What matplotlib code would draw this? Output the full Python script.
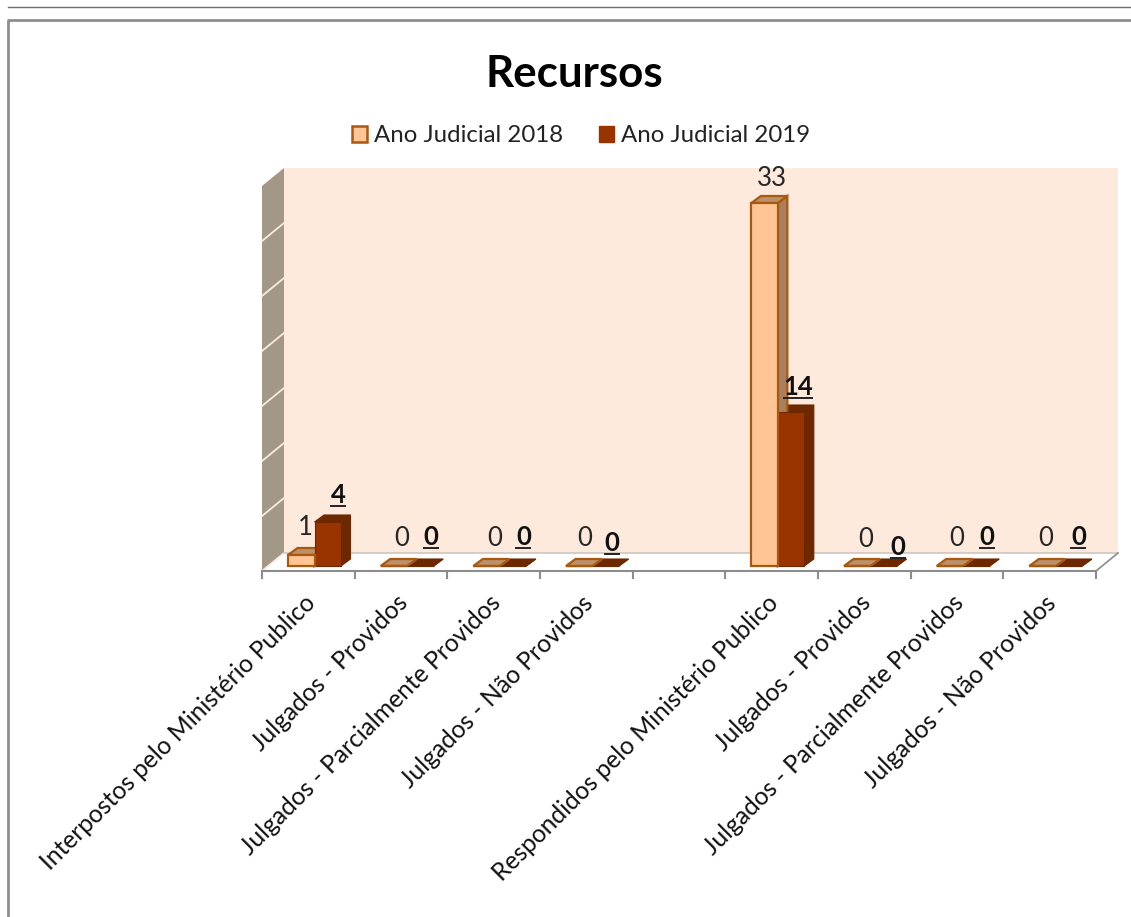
import matplotlib
matplotlib.use("Agg")
import matplotlib.pyplot as plt
from matplotlib.lines import Line2D
from matplotlib.patches import Patch, Polygon, Rectangle

plt.rcParams['font.family'] = ['Lato', 'DejaVu Sans']

W, H = 1131, 917

categories = [
    "Interpostos pelo Ministério Publico",
    "Julgados - Providos",
    "Julgados - Parcialmente Providos",
    "Julgados - Não Providos",
    "",
    "Respondidos pelo Ministério Publico",
    "Julgados - Providos",
    "Julgados - Parcialmente Providos",
    "Julgados - Não Providos",
]
series_names = ["Ano Judicial 2018", "Ano Judicial 2019"]
values_2018 = [1, 0, 0, 0, None, 33, 0, 0, 0]
values_2019 = [4, 0, 0, 0, None, 14, 0, 0, 0]
y_ticks = [0, 5, 10, 15, 20, 25, 30, 35]

# pixel layout of the fake 3D box
AX_L, AX_R, AX_BOTTOM, AX_TOP = 262, 1096, 571, 186
PX_X = (AX_R - AX_L) / len(categories)
PX_Y = (AX_BOTTOM - AX_TOP) / 35
WALL_DX, WALL_DY = 22, 18
BAR_DX, BAR_DY = 9.5, 7
BAR_LIFT = 5

C_2018 = "#FFC594"
C_2018_EDGE = "#A9590F"
C_2018_TOP = "#BC9069"
C_2018_SIDE = "#A8805F"
C_2019 = "#993300"
C_2019_DARK = "#6E2800"
C_WALL = "#FEEADD"
C_SIDE = "#A39788"
C_AXIS = "#8C8C8C"


def shift(x, y, dx=0, dy=0):
    # move a data point by a screen offset in pixels
    return (x + dx / PX_X, y + dy / PX_Y)


def box(ax, x, v, w, front, top, side, edge, lw):
    y0 = BAR_LIFT / PX_Y
    y1 = y0 + v
    d = (BAR_DX, BAR_DY)
    ax.add_patch(Polygon([(x + w, y0), (x + w, y1), shift(x + w, y1, *d), shift(x + w, y0, *d)],
                         fc=side, ec=edge, lw=lw, clip_on=False, zorder=3))
    ax.add_patch(Polygon([(x, y1), (x + w, y1), shift(x + w, y1, *d), shift(x, y1, *d)],
                         fc=top, ec=edge, lw=lw, clip_on=False, zorder=3))
    ax.add_patch(Rectangle((x, y0), w, v, fc=front, ec=edge, lw=lw, clip_on=False, zorder=4))


fig = plt.figure(figsize=(W / 100, H / 100), dpi=100, facecolor="white")

# outer frame of the pasted chart
fig.add_artist(Line2D([8 / W, 1], [1 - 6.5 / H] * 2, color="#6E6E6E", lw=1))
fig.add_artist(Line2D([8 / W, 8 / W, 1], [0, 1 - 20 / H, 1 - 20 / H], color="#8E8E8E", lw=2))

ax = fig.add_axes([AX_L / W, 1 - AX_BOTTOM / H, (AX_R - AX_L) / W, (AX_BOTTOM - AX_TOP) / H])
ax.set_xlim(0, len(categories))
ax.set_ylim(0, 35)
ax.axis("off")

n = len(categories)
wall = (WALL_DX, WALL_DY)

# back wall, floor and left wall
ax.add_patch(Polygon([shift(0, 0, *wall), shift(n, 0, *wall), shift(n, 35, *wall), shift(0, 35, *wall)],
                     fc=C_WALL, ec="none", clip_on=False, zorder=1))
ax.add_patch(Polygon([(0, 0), shift(0, 0, *wall), shift(0, 35, *wall), (0, 35)],
                     fc=C_SIDE, ec="none", clip_on=False, zorder=1))
for t in y_ticks[:-1]:
    ax.plot(*zip((0, t), shift(0, t, *wall)), color=C_WALL, lw=1.3, clip_on=False, zorder=2)
ax.plot(*zip(shift(0, 0, *wall), shift(n, 0, *wall)), color="#CFC6BE", lw=1.2, clip_on=False, zorder=2)
ax.plot(*zip((n, 0), shift(n, 0, *wall)), color=C_AXIS, lw=1.2, clip_on=False, zorder=2)

# front axis with its ticks
ax.plot([0, n], [0, 0], color=C_AXIS, lw=1.5, clip_on=False, zorder=2)
for i in range(n + 1):
    ax.plot([i, i], [0, -7 / PX_Y], color=C_AXIS, lw=1.5, clip_on=False, zorder=2)

# bars, 2019 first so the 2018 side face stays in front of the back part
bar_w = 26.5 / PX_X
for i in range(n):
    if values_2018[i] is None:
        continue
    x0 = i + 26 / PX_X
    box(ax, x0 + bar_w, values_2019[i], bar_w, C_2019, C_2019_DARK, C_2019_DARK, C_2019_DARK, 0.8)
    box(ax, x0, values_2018[i], bar_w, C_2018, C_2018_TOP, C_2018_SIDE, C_2018_EDGE, 1.6)

# data labels, nudged by hand like the originals
nudge_2018 = [(17, 15), (21, 15), (21, 15), (19, 15), None, (21, 12), (22, 14), (20, 15), (16, 15)]
nudge_2019 = [(-3, 15), (-3, 17), (-3, 17), (-7, 11), None, (-6, 13), (1, 7), (-3, 17), (-4, 17)]
for i in range(n):
    if values_2018[i] is None:
        continue
    x0 = i + 26 / PX_X
    ax.annotate(str(values_2018[i]), (x0, values_2018[i] + BAR_LIFT / PX_Y), xytext=nudge_2018[i],
                textcoords="offset pixels", ha="center", va="bottom", fontsize=18.5, color="#262626",
                annotation_clip=False, zorder=5)
    label = str(values_2019[i])
    x1 = x0 + 2 * bar_w
    px, py = nudge_2019[i]
    ax.annotate(label, (x1, values_2019[i] + BAR_LIFT / PX_Y), xytext=(px, py),
                textcoords="offset pixels", ha="center", va="bottom", fontsize=18.5, fontweight="bold",
                color="#111111", annotation_clip=False, zorder=5)
    half = 7 * len(label)
    lx, ly = shift(x1, values_2019[i] + BAR_LIFT / PX_Y, px, py)
    ax.plot([lx - half / PX_X, lx + half / PX_X], [ly + 1 / PX_Y] * 2, color="#222222", lw=1.4,
            clip_on=False, zorder=5)

# rotated category labels
for i, name in enumerate(categories):
    if name:
        ax.annotate(name, (i + 0.5, 0), xytext=(3, -28), textcoords="offset pixels", rotation=45,
                    rotation_mode="anchor", ha="right", va="center", fontsize=17.7, color="#111111",
                    annotation_clip=False)

fig.text(574.5 / W, 1 - 74 / H, "Recursos", ha="center", va="center", fontsize=31.6, fontweight="bold", color="black")

handles = [Patch(fc=C_2018, ec=C_2018_EDGE, lw=1.8), Patch(fc=C_2019, ec=C_2019)]
fig.legend(handles, series_names, loc="center", bbox_to_anchor=(581 / W, 1 - 136 / H), ncol=2, frameon=False,
           fontsize=17.3, handlelength=0.62, handleheight=0.62, handletextpad=0.3, columnspacing=1.5,
           labelcolor="#222222")

fig.savefig("out.png", dpi=100)
